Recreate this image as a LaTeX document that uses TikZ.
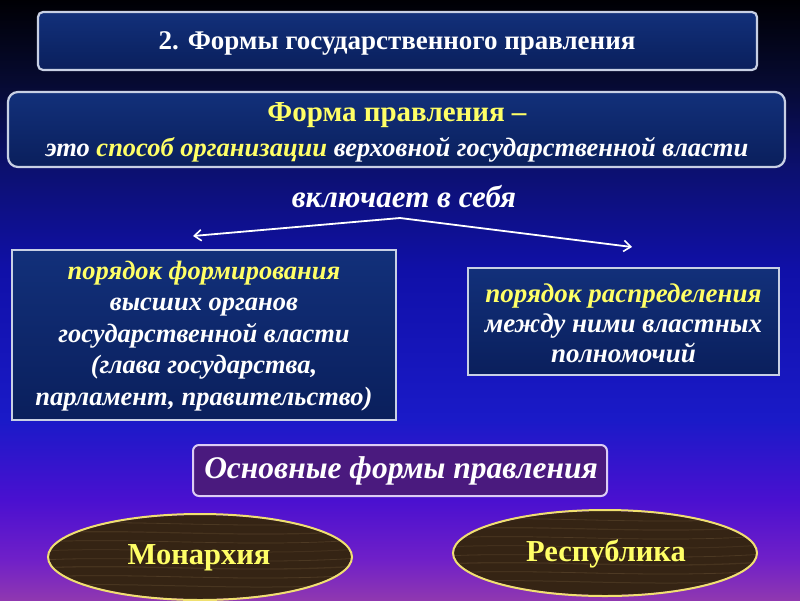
\documentclass[tikz,border=0pt]{standalone}
\usepackage{fontspec}
\setmainfont{Liberation Serif}
\usetikzlibrary{shapes.geometric,arrows.meta}
\definecolor{bgA}{HTML}{000004}
\definecolor{bgB}{HTML}{060A30}
\definecolor{bgC}{HTML}{0C1070}
\definecolor{bgD}{HTML}{1010A8}
\definecolor{bgE}{HTML}{1A1AC8}
\definecolor{bgF}{HTML}{4A10D0}
\definecolor{bgG}{HTML}{7020C8}
\definecolor{bgH}{HTML}{9038B0}
\definecolor{navyT}{HTML}{12307A}
\definecolor{navyB}{HTML}{0A1F5C}
\definecolor{edge}{HTML}{C8D0E4}
\definecolor{yel}{HTML}{FFFF66}
\definecolor{purp}{HTML}{4A1A7E}
\definecolor{purpedge}{HTML}{DCCCF4}
\definecolor{wood}{HTML}{352414}
\definecolor{woodL}{HTML}{6E5638}
\definecolor{ovedge}{HTML}{F0E070}
\tikzset{
  navybox/.style={draw=edge, line width=2.2pt, top color=navyT, bottom color=navyB, inner sep=0pt},
  purpbox/.style={draw=purpedge, line width=2pt, fill=purp, rounded corners=6pt, inner sep=0pt},
  ovalbox/.style={ellipse, draw=ovedge, line width=2pt, inner sep=0pt},
  txt/.style={inner sep=0pt, text=white, font=\bfseries\itshape\fontsize{26.5}{31.5}\selectfont, align=center},
  conn/.style={draw=white, line width=1.8pt, -{Straight Barb[length=7pt,width=11pt,line width=1.6pt]}}
}
\begin{document}
\begin{tikzpicture}[x=1pt,y=-1pt]
\useasboundingbox (0,0) rectangle (800,600);
% background
\shade[top color=bgA, bottom color=bgB] (0,0) rectangle (800,80);
\shade[top color=bgB, bottom color=bgC] (0,80) rectangle (800,170);
\shade[top color=bgC, bottom color=bgD] (0,170) rectangle (800,270);
\shade[top color=bgD, bottom color=bgE] (0,270) rectangle (800,420);
\shade[top color=bgE, bottom color=bgF] (0,420) rectangle (800,500);
\shade[top color=bgF, bottom color=bgG] (0,500) rectangle (800,560);
\shade[top color=bgG, bottom color=bgH] (0,560) rectangle (800,600.5);

% title
\node[navybox, rounded corners=5pt, minimum width=719pt, minimum height=58pt] (title) at (397.5,41) {};
\node[inner sep=0pt, text=white, font=\bfseries\fontsize{27}{30}\selectfont] (titletext) at (397,43) {2. Формы государственного правления};

% definition box
\node[navybox, rounded corners=10pt, minimum width=777pt, minimum height=75pt] (def) at (396.5,129.5) {};
\node[inner sep=0pt, text=yel, font=\bfseries\fontsize{29}{32}\selectfont] (defhead) at (397,115) {Форма правления –};
\node[inner sep=0pt, text=white, font=\bfseries\itshape\fontsize{26.5}{30}\selectfont] (defline) at (397,150) {это \textcolor{yel}{способ организации} верховной государственной власти};

\node[inner sep=0pt, text=white, font=\bfseries\itshape\fontsize{31}{34}\selectfont] (incl) at (404,197) {включает в себя};

\coordinate (split) at (400,218);
\coordinate (lt) at (193,236);
\coordinate (rt) at (632,247);
\draw[conn] (split) -- (lt);
\draw[conn] (split) -- (rt);

% left box
\node[navybox, minimum width=384pt, minimum height=170pt] (left) at (204,335) {};
\node[txt] (lefttext) at (204,336) {\textcolor{yel}{порядок формирования}\\высших органов\\государственной власти\\(глава государства,\\парламент, правительство)};

% right box
\node[navybox, minimum width=311pt, minimum height=107pt] (right) at (623.5,321.5) {};
\node[txt, font=\bfseries\itshape\fontsize{27}{30}\selectfont] (righttext) at (623.5,323) {\textcolor{yel}{порядок распределения}\\между ними властных\\полномочий};

% main forms
\node[purpbox, minimum width=414pt, minimum height=51pt] (forms) at (400,470.5) {};
\node[inner sep=0pt, text=white, font=\bfseries\itshape\fontsize{31.5}{34}\selectfont] (formstext) at (401,471) {Основные формы правления};

% ovals
\foreach \cx/\cy in {200/557, 605/553} {
  \fill[wood] (\cx,\cy) ellipse [x radius=151, y radius=42];
  \begin{scope}
    \clip (\cx,\cy) ellipse [x radius=151, y radius=42];
    \foreach \dy/\op/\lw in {-33/0.4/0.8, -24/0.3/1.2, -15/0.45/0.7, -6/0.25/1.0, 3/0.4/0.8, 11/0.3/1.3, 20/0.45/0.8, 29/0.35/1.0} {
      \draw[woodL, line width=\lw pt, opacity=\op]
        (\cx-160,\cy+\dy) .. controls (\cx-60,\cy+\dy-5) and (\cx+40,\cy+\dy+6) .. (\cx+160,\cy+\dy-2);
    }
  \end{scope}
}
\node[ovalbox, minimum width=304pt, minimum height=86pt] (mon) at (200,557) {};
\node[ovalbox, minimum width=304pt, minimum height=86pt] (rep) at (605,553) {};
\node[inner sep=0pt, text=yel, font=\bfseries\fontsize{30.5}{33}\selectfont] (montext) at (199,558) {Монархия};
\node[inner sep=0pt, text=yel, font=\bfseries\fontsize{30.5}{33}\selectfont] (reptext) at (606,554) {Республика};
\end{tikzpicture}
\end{document}
